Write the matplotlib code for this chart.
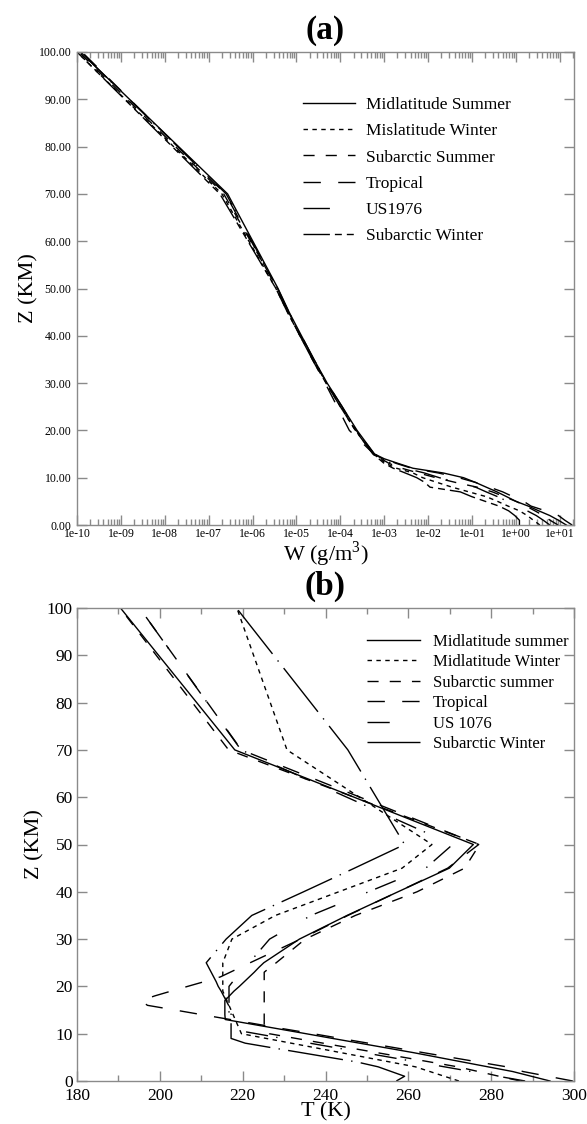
import numpy as np
import matplotlib
matplotlib.use("Agg")
import matplotlib.pyplot as plt
from matplotlib.ticker import LogLocator, FuncFormatter, MultipleLocator, NullFormatter

plt.rcParams['font.family'] = ['Liberation Serif', 'DejaVu Serif']
plt.rcParams['mathtext.fontset'] = 'custom'
plt.rcParams['mathtext.rm'] = 'Liberation Serif'

# ---- panel (a): water vapour density W (g/m^3) vs altitude ----
z_w = [0, 1, 2, 3, 4, 5, 6, 7, 8, 9, 10, 11, 12, 13, 14, 15,
       20, 25, 30, 35, 40, 45, 50, 70, 100]
w_mls = [14, 9.3, 5.9, 3.3, 1.9, 1.0, 0.61, 0.37, 0.21, 0.12, 0.064, 0.022, 0.0045, 0.0021, 1.0e-3, 6.0e-4,
         2.4e-4, 1.1e-4, 5.0e-5, 2.5e-5, 1.3e-5, 6.8e-6, 3.8e-6, 2.7e-7, 1.2e-10]
w_mlw = [3.5, 2.5, 1.8, 1.2, 0.66, 0.38, 0.21, 0.085, 0.035, 0.016, 0.0075, 0.0045, 0.0019, 1.1e-3, 8.0e-4, 5.6e-4,
         2.2e-4, 1.0e-4, 4.8e-5, 2.4e-5, 1.2e-5, 6.3e-6, 3.4e-6, 2.0e-7, 1.0e-10]
w_sas = [9.1, 6.0, 4.2, 2.7, 1.7, 1.0, 0.54, 0.29, 0.13, 0.042, 0.015, 0.0060, 0.0025, 1.3e-3, 8.5e-4, 5.8e-4,
         2.3e-4, 1.05e-4, 4.9e-5, 2.4e-5, 1.25e-5, 6.6e-6, 3.7e-6, 2.2e-7, 1.1e-10]
w_trop = [19, 13, 9.3, 4.7, 2.2, 1.5, 0.85, 0.5, 0.25, 0.12, 0.05, 0.017, 0.0042, 0.0019, 1.0e-3, 5.8e-4,
          1.6e-4, 8.5e-5, 4.5e-5, 2.3e-5, 1.2e-5, 6.5e-6, 3.6e-6, 2.4e-7, 1.3e-10]
w_us76 = [5.9, 4.2, 2.9, 1.8, 1.1, 0.64, 0.38, 0.21, 0.12, 0.046, 0.018, 0.0082, 0.0030, 1.5e-3, 9.0e-4, 5.9e-4,
          2.3e-4, 1.1e-4, 5.0e-5, 2.5e-5, 1.3e-5, 6.7e-6, 3.7e-6, 2.5e-7, 1.2e-10]
w_saw = [1.2, 1.2, 0.94, 0.68, 0.41, 0.2, 0.098, 0.054, 0.011, 0.0084, 0.0055, 0.0030, 0.0016, 1.0e-3, 7.5e-4, 5.5e-4,
         2.2e-4, 1.0e-4, 4.7e-5, 2.3e-5, 1.2e-5, 6.2e-6, 3.4e-6, 1.8e-7, 1.0e-10]
labels_a = ["Midlatitude Summer", "Mislatitude Winter", "Subarctic Summer",
            "Tropical", "US1976", "Subarctic Winter"]

# ---- panel (b): temperature T (K) vs altitude ----
z_t = [0, 1, 2, 3, 4, 5, 6, 7, 8, 9, 10, 11, 12, 13, 14, 15, 16, 17, 18, 19, 20,
       21, 22, 23, 24, 25, 30, 35, 40, 45, 50, 70, 100]
t_mls = [294.2, 289.7, 285.2, 279.2, 273.2, 267.2, 261.2, 254.7, 248.2, 241.7, 235.3, 228.8, 222.3, 215.8,
         215.7, 215.7, 215.7, 215.7, 216.8, 217.9, 219.2, 220.4, 221.6, 222.8, 223.9, 225.1,
         233.7, 245.2, 257.5, 269.9, 275.7, 218.1, 190.5]
t_mlw = [272.2, 268.7, 265.2, 261.7, 255.7, 249.7, 243.7, 237.7, 231.7, 225.7, 219.7, 219.2, 218.7, 218.2,
         217.7, 217.2, 216.7, 216.2, 215.7, 215.2, 215.2, 215.2, 215.2, 215.2, 215.2, 215.2,
         217.4, 227.9, 243.2, 258.5, 265.7, 230.7, 218.6]
t_sas = [287.0, 281.9, 276.9, 271.9, 265.4, 258.9, 252.4, 245.9, 239.4, 232.9, 226.4, 225.2, 225.2, 225.2,
         225.2, 225.2, 225.2, 225.2, 225.2, 225.2, 225.2, 225.2, 225.2, 225.2, 226.6, 228.1,
         235.1, 247.2, 262.1, 273.6, 277.2, 216.6, 190.4]
t_trop = [299.7, 293.7, 287.7, 283.7, 277.0, 270.3, 263.6, 257.0, 250.3, 243.6, 237.0, 230.1, 223.6, 217.0,
          210.3, 203.7, 197.0, 195.5, 198.8, 202.7, 206.7, 210.7, 214.6, 217.0, 219.4, 221.8,
          234.0, 245.4, 257.5, 269.5, 277.0, 219.7, 195.1]
t_us76 = [288.2, 281.7, 275.2, 268.7, 262.2, 255.7, 249.2, 242.7, 236.2, 229.7, 223.3, 216.8, 216.7, 216.7,
          216.7, 216.7, 216.7, 216.7, 216.7, 216.7, 216.7, 217.6, 218.6, 219.6, 220.6, 221.6,
          226.5, 236.5, 250.4, 264.2, 270.7, 219.6, 195.1]
t_saw = [257.1, 259.1, 255.9, 252.7, 247.7, 240.9, 234.1, 227.3, 220.6, 217.2, 217.2, 217.2, 217.2, 217.2,
         217.2, 217.2, 216.6, 216.0, 215.4, 214.8, 214.1, 213.6, 213.0, 212.4, 211.8, 211.2,
         216.0, 222.2, 234.7, 247.0, 259.1, 245.4, 218.5]
labels_b = ["Midlatitude summer", "Midlatitude Winter", "Subarctic summer",
            "Tropical", "US 1076", "Subarctic Winter"]

# grace-like dash patterns (points)
styles_a = ['-', (0, (3.2, 3.2)), (0, (8, 8)), (0, (12.5, 12.5)),
            (0, (19, 19, 1, 4)), (0, (19, 3.6, 5, 3.6, 5, 3.6))]
# subarctic winter in (b): very long dash + dot (looks solid in the short legend handle)
styles_b = ['-', (0, (3.2, 3.2)), (0, (8, 8)), (0, (12.5, 12.5)),
            (0, (16, 24, 1, 6)), (0, (40, 6, 1, 6))]

GREY = '#8a8a8a'


def style_axes(ax, tick_fs):
    for s in ax.spines.values():
        s.set_color(GREY)
        s.set_linewidth(1.0)
    ax.tick_params(which='both', direction='in', top=True, right=True,
                   color=GREY, width=1.0, labelsize=tick_fs)
    ax.tick_params(which='major', length=7.2)
    ax.tick_params(which='minor', length=4.0)


fig = plt.figure(figsize=(5.87, 11.24), dpi=100)
ax1 = fig.add_axes([77 / 587, 1 - 525 / 1124, 497 / 587, 473 / 1124])
ax2 = fig.add_axes([77 / 587, 1 - 1081 / 1124, 497 / 587, 473 / 1124])

# panel (a)
for w, ls, lab in zip([w_mls, w_mlw, w_sas, w_trop, w_us76, w_saw], styles_a, labels_a):
    ax1.plot(w, z_w, color='black', lw=1.0, ls=ls, label=lab)
ax1.set_xscale('log')
ax1.set_xlim(1e-10, 2.1e1)
ax1.set_ylim(0, 100)
ax1.xaxis.set_major_locator(LogLocator(base=10, numticks=30))
ax1.xaxis.set_minor_locator(LogLocator(base=10, subs=np.arange(2, 10), numticks=300))
ax1.xaxis.set_minor_formatter(NullFormatter())
ax1.xaxis.set_major_formatter(FuncFormatter(lambda v, p: f"{v:.0e}"))
ax1.yaxis.set_major_locator(MultipleLocator(10))
ax1.yaxis.set_major_formatter(FuncFormatter(lambda v, p: f"{v:.2f}"))
style_axes(ax1, 8.5)
ax1.tick_params(axis='x', pad=2)
ax1.tick_params(axis='y', pad=4)
ax1.set_xlabel('W (g/m$^3$)', fontsize=16, labelpad=0)
ax1.set_ylabel('Z (KM)', fontsize=16, labelpad=0)
ax1.legend(loc='upper left', bbox_to_anchor=(0.455, 0.905), frameon=False,
           fontsize=12.5, handlelength=3.0, handletextpad=0.6, labelspacing=0.58,
           borderpad=0, borderaxespad=0)

# panel (b)
for t, ls, lab in zip([t_mls, t_mlw, t_sas, t_trop, t_us76, t_saw], styles_b, labels_b):
    ax2.plot(t, z_t, color='black', lw=1.0, ls=ls, label=lab)
ax2.set_xlim(180, 300)
ax2.set_ylim(0, 100)
ax2.xaxis.set_major_locator(MultipleLocator(20))
ax2.xaxis.set_minor_locator(MultipleLocator(10))
ax2.yaxis.set_major_locator(MultipleLocator(10))
style_axes(ax2, 12.5)
ax2.tick_params(axis='x', pad=5)
ax2.tick_params(axis='y', pad=3)
ax2.set_xlabel('T (K)', fontsize=16, labelpad=-1)
ax2.set_ylabel('Z (KM)', fontsize=16, labelpad=2)
ax2.legend(loc='upper left', bbox_to_anchor=(0.583, 0.946), frameon=False,
           fontsize=12, handlelength=3.2, handletextpad=0.75, labelspacing=0.27,
           borderpad=0, borderaxespad=0)

fig.text(325.5 / 587, 1 - 30 / 1124, '(a)', ha='center', va='center', fontsize=24, fontweight='bold')
fig.text(325.5 / 587, 1 - 586 / 1124, '(b)', ha='center', va='center', fontsize=24, fontweight='bold')

fig.savefig('out.png', dpi=100)
